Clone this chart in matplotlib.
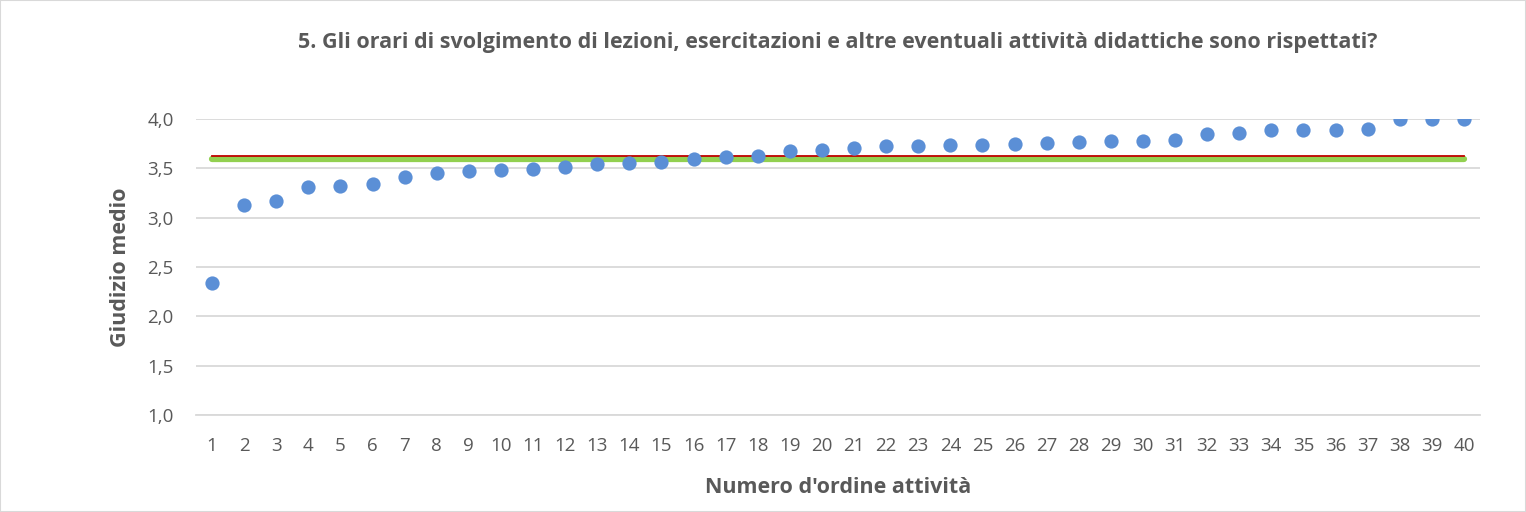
import numpy as np
import matplotlib.pyplot as plt
from matplotlib.patches import Rectangle

# Data
activity = list(range(1, 41))
giudizio = [2.34, 3.13, 3.17, 3.31, 3.32, 3.34, 3.41, 3.45, 3.47, 3.48,
            3.49, 3.51, 3.54, 3.55, 3.56, 3.59, 3.61, 3.63, 3.68, 3.69,
            3.71, 3.73, 3.73, 3.74, 3.74, 3.75, 3.76, 3.77, 3.78, 3.78,
            3.79, 3.85, 3.86, 3.89, 3.89, 3.89, 3.90, 4.00, 4.00, 4.00]
media_red = 3.62
media_green = 3.595

text_col = '#595959'
plt.rcParams['font.family'] = ['Open Sans', 'DejaVu Sans']

fig = plt.figure(figsize=(15.26, 5.12), dpi=100)
ax = fig.add_axes([196 / 1526, 1 - 415 / 512, (1480 - 196) / 1526, (415 - 119) / 512])

# reference lines (green thick, red thin on top)
ax.plot([activity[0], activity[-1]], [media_green] * 2, color='#92D050', lw=4.5,
        solid_capstyle='round', zorder=2)
ax.plot([activity[0], activity[-1]], [media_red] * 2, color='#C00000', lw=1.3, zorder=3)

ax.scatter(activity, giudizio, s=105, color='#5B8FD6', zorder=4, linewidths=0)

ax.set_xlim(0.5, 40.5)
ax.set_ylim(1.0, 4.0)
ax.set_yticks(np.arange(1.0, 4.01, 0.5))
ax.set_yticklabels([f'{v:.1f}'.replace('.', ',') for v in np.arange(1.0, 4.01, 0.5)])
ax.set_xticks(activity)
ax.set_xticklabels([str(a) for a in activity])
ax.tick_params(axis='both', length=0, labelsize=13.5, colors=text_col)
ax.tick_params(axis='x', pad=16)
ax.tick_params(axis='y', pad=16)

ax.grid(axis='y', color='#D9D9D9', lw=1.3)
ax.set_axisbelow(True)
for s in ['top', 'right', 'left']:
    ax.spines[s].set_visible(False)
ax.spines['bottom'].set_color('#D9D9D9')
ax.spines['bottom'].set_linewidth(1.3)

ax.set_xlabel("Numero d'ordine attività", fontsize=15.5, fontweight='bold',
              color=text_col, labelpad=16)
ax.set_ylabel('Giudizio medio', fontsize=15.5, fontweight='bold', color=text_col,
              labelpad=12)
ax.set_title('5. Gli orari di svolgimento di lezioni, esercitazioni e altre eventuali '
             'attività didattiche sono rispettati?', fontsize=15.5, fontweight='bold',
             color=text_col, pad=51)

# chart border
fig.patches.append(Rectangle((0, 0), 1, 1, transform=fig.transFigure, fill=False,
                             edgecolor='#D9D9D9', lw=1.5))

fig.savefig('out.png', dpi=100)
